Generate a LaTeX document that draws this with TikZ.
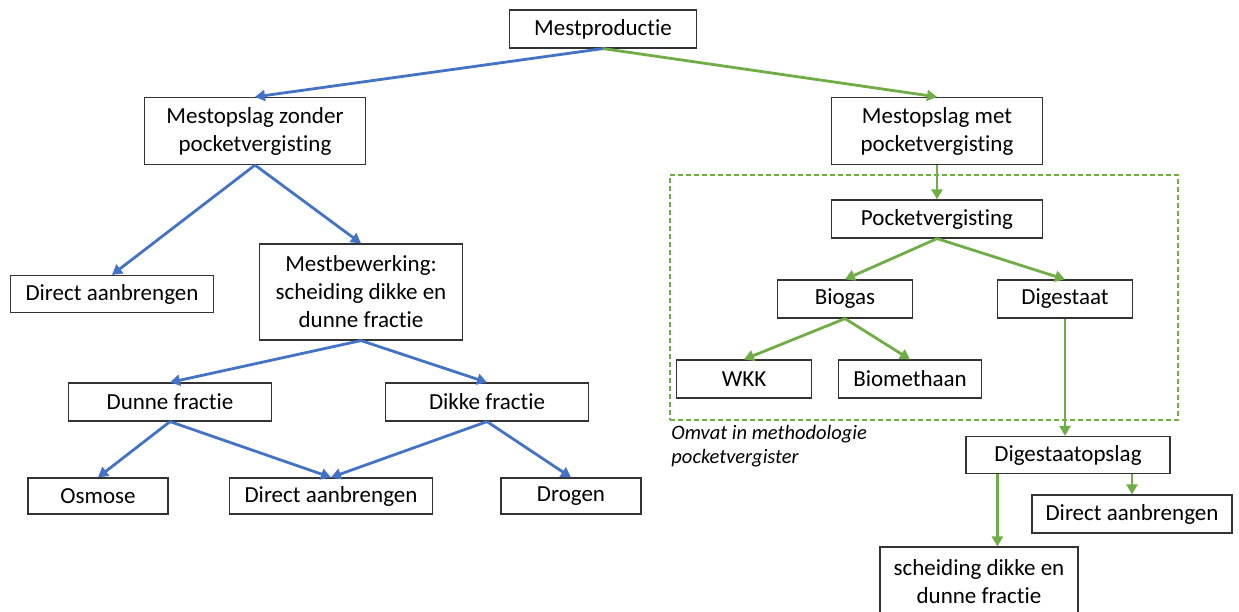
\documentclass[tikz,border=0pt]{standalone}
\usepackage{fontspec}
\setmainfont{Carlito}[Ligatures=NoCommon]
\usepackage{xcolor}
\usetikzlibrary{arrows.meta}
\definecolor{mblue}{HTML}{4472C4}
\definecolor{mgreen}{HTML}{70AD47}

\begin{document}
\begin{tikzpicture}[x=1pt,y=-1pt,
    box/.style={draw=black!80,line width=1.2pt,fill=white,minimum height=38pt,inner sep=2pt,align=center,font=\fontsize{23}{28}\selectfont},
    barrow/.style={draw=mblue,line width=2.8pt,-{Triangle[length=10pt,width=11pt]}},
    garrow/.style={draw=mgreen,line width=2.8pt,-{Triangle[length=10pt,width=11pt]}}]
    \useasboundingbox (0,0) rectangle (1239,612);
    \node[draw=mgreen,line width=1.5pt,dash pattern=on 5pt off 3pt,minimum width=508pt,minimum height=245pt] (scope) at (924,297.5) {};
    \node[anchor=north west,align=left,inner sep=2pt,font=\fontsize{20.5}{24}\selectfont\itshape] (omvat) at ([yshift=-2pt]scope.south west) {Omvat in methodologie\\pocketvergister};
    \node[box,minimum width=187pt] (prod) at (603,29) {Mestproductie};
    \node[box,minimum width=221pt,minimum height=67pt] (zonder) at (255,131) {Mestopslag zonder\\pocketvergisting};
    \node[box,minimum width=211pt,minimum height=67pt] (met) at (937,131) {Mestopslag met\\pocketvergisting};
    \node[box,minimum width=203pt,minimum height=37pt] (dal) at (112,294) {Direct aanbrengen};
    \node[box,minimum width=203pt,minimum height=96pt] (bew) at (361,292) {Mestbewerking:\\scheiding dikke en\\dunne fractie};
    \node[box,minimum width=203pt] (dun) at (170,402) {Dunne fractie};
    \node[box,minimum width=203pt] (dik) at (487,402) {Dikke fractie};
    \node[box,minimum width=140pt,minimum height=36pt] (osm) at (98,496) {Osmose};
    \node[box,minimum width=203pt,minimum height=36pt] (dam) at (331,496) {Direct aanbrengen};
    \node[box,minimum width=140pt,minimum height=36pt] (dro) at (571,496) {Drogen};
    \node[box,minimum width=211pt] (pocket) at (937,219) {Pocketvergisting};
    \node[box,minimum width=135pt] (bio) at (845,299) {Biogas};
    \node[box,minimum width=135pt] (dig) at (1065,299) {Digestaat};
    \node[box,minimum width=135pt] (wkk) at (744,379) {WKK};
    \node[box,minimum width=143pt] (meth) at (910,379) {Biomethaan};
    \node[box,minimum width=204pt,minimum height=37pt] (dopslag) at (1068,455) {Digestaatopslag};
    \node[box,minimum width=200pt] (dar) at (1132,514) {Direct aanbrengen};
    \node[box,minimum width=198pt,minimum height=70pt] (sch) at (979,582) {scheiding dikke en\\dunne fractie};
    \draw[barrow] (prod.south) -- (zonder.north);
    \draw[garrow] (prod.south) -- (met.north);
    \draw[barrow] (zonder.south) -- (dal.north);
    \draw[barrow] (zonder.south) -- (bew.north);
    \draw[barrow] (bew.south) -- (dun.north);
    \draw[barrow] (bew.south) -- (dik.north);
    \draw[barrow] (dun.south) -- (osm.north);
    \draw[barrow] (dun.south) -- (dam.north);
    \draw[barrow] (dik.south) -- (dam.north);
    \draw[barrow] (dik.south) -- (dro.north);
    \draw[garrow] (met.south) -- (pocket.north);
    \draw[garrow] (pocket.south) -- (bio.north);
    \draw[garrow] (pocket.south) -- (dig.north);
    \draw[garrow] (bio.south) -- (wkk.north);
    \draw[garrow] (bio.south) -- (meth.north);
    \draw[garrow] (dig.south) -- (dig.south |- dopslag.north);
    \draw[garrow] (dopslag.south -| dar.north) -- (dar.north);
    \draw[garrow] ([xshift=32pt]dopslag.south west) -- ([xshift=32pt]dopslag.south west |- sch.north);
\end{tikzpicture}
\end{document}
